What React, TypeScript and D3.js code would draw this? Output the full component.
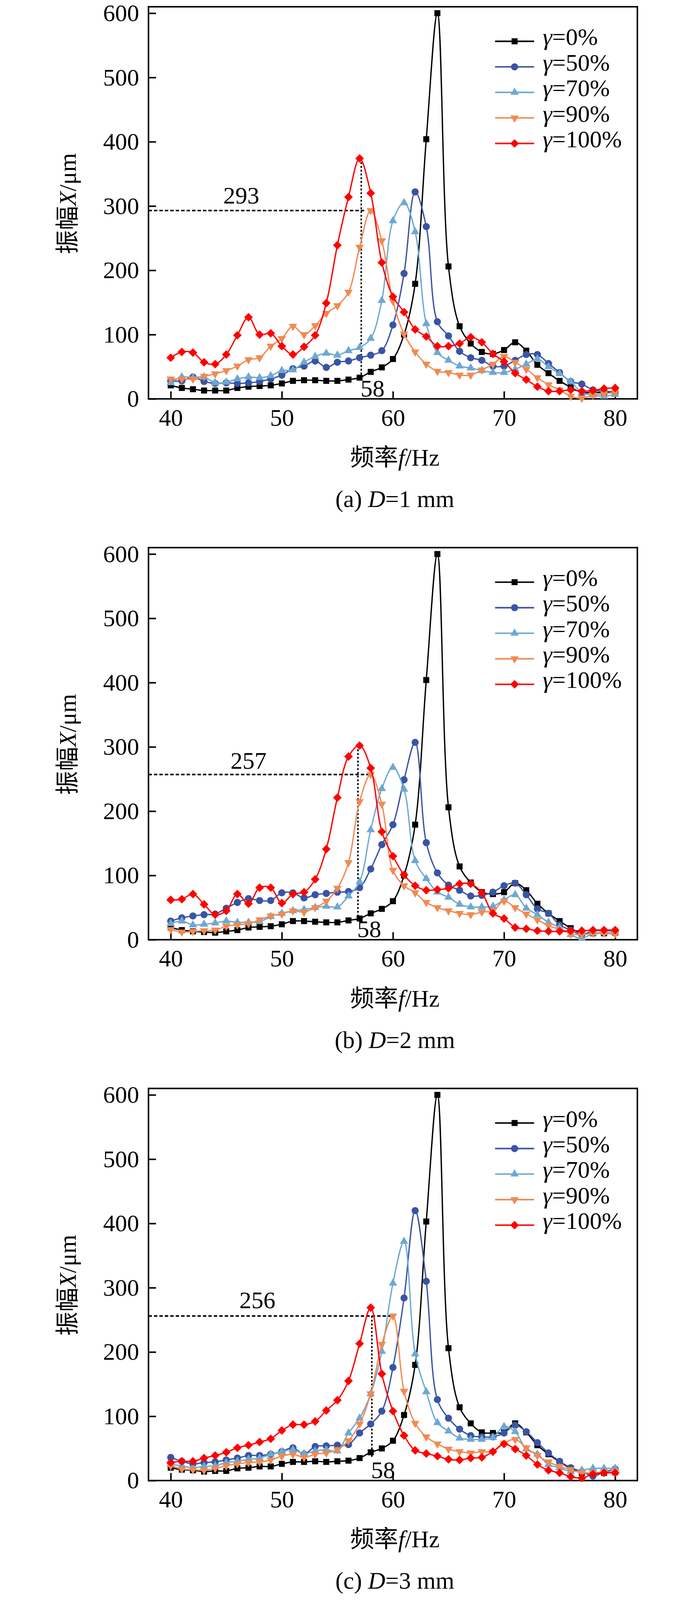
import { useEffect, useMemo, useRef } from "react";
import * as d3 from "d3";

const WIDTH = 1772;
const HEIGHT = 4260;
const PANEL_STEP = 1440;
const BOX = { left: 360, right: 1662, top: 18, bottom: 1062 };
const FONT = "'Liberation Serif', 'Times New Roman', 'Noto Sans CJK SC', serif";
const FONT_SIZE = 64;

// frequency sweep (Hz)
const freq = [
    40, 41, 42, 43, 44, 45, 46, 47, 48, 49, 50, 51, 52, 53, 54, 55, 56, 57, 58, 59, 60,
    61, 62, 63, 64, 65, 66, 67, 68, 69, 70, 71, 72, 73, 74, 75, 76, 77, 78, 79, 80,
];
const xTicks = [40, 50, 60, 70, 80];
const yTicks = [0, 100, 200, 300, 400, 500, 600];

const gammaLabels = ["0%", "50%", "70%", "90%", "100%"];
const seriesColors = ["#000000", "#3A54A4", "#6EA8D2", "#F08A52", "#FF0000"];
const seriesMarkers = ["square", "circle", "triangleUp", "triangleDown", "diamond"];

// (a) D = 1 mm
const d1g0 = [21, 17, 15, 13, 13, 13, 17, 19, 20, 21, 24, 28, 29, 29, 28, 28, 30, 33, 42, 49, 62, 100, 179, 404, 600, 206, 113, 86, 73, 70, 76, 88, 75, 53, 40, 28, 18, 10, 10, 10, 11];
const d1g50 = [28, 28, 34, 27, 24, 25, 24, 25, 27, 31, 37, 47, 51, 59, 49, 57, 59, 64, 68, 75, 115, 195, 322, 268, 120, 98, 74, 64, 60, 51, 51, 60, 69, 69, 55, 41, 27, 23, 14, 12, 11];
const d1g70 = [25, 34, 33, 34, 25, 26, 31, 34, 33, 36, 44, 45, 57, 66, 71, 68, 75, 80, 94, 153, 277, 305, 260, 117, 72, 60, 51, 48, 44, 41, 41, 46, 54, 62, 50, 39, 27, 10, 6, 4, 7];
const d1g90 = [31, 31, 31, 35, 39, 44, 51, 61, 64, 82, 94, 113, 100, 114, 133, 145, 166, 236, 293, 246, 152, 101, 73, 54, 43, 41, 37, 37, 45, 54, 66, 57, 46, 33, 22, 14, 4, 1, 6, 8, 10];
const d1g100 = [64, 73, 72, 57, 54, 69, 99, 127, 100, 102, 82, 69, 81, 99, 149, 239, 314, 374, 320, 212, 159, 135, 108, 97, 82, 82, 86, 96, 88, 70, 58, 40, 30, 19, 12, 12, 14, 12, 13, 16, 17];

// (b) D = 2 mm
const d2g0 = [19, 15, 13, 12, 11, 13, 15, 19, 20, 21, 24, 29, 29, 28, 27, 27, 30, 33, 41, 48, 60, 100, 179, 404, 600, 206, 114, 89, 74, 71, 74, 88, 77, 56, 41, 29, 18, 10, 10, 10, 11];
const d2g50 = [29, 34, 37, 39, 40, 49, 58, 64, 61, 61, 73, 73, 65, 70, 72, 74, 75, 81, 110, 148, 179, 249, 307, 151, 104, 85, 77, 68, 69, 74, 84, 88, 70, 48, 41, 23, 15, 8, 14, 14, 14];
const d2g70 = [25, 29, 23, 24, 26, 29, 27, 27, 28, 36, 41, 45, 47, 50, 52, 51, 68, 90, 171, 235, 268, 234, 123, 95, 74, 66, 55, 51, 51, 52, 62, 70, 49, 39, 27, 19, 8, 2, 10, 11, 11];
const d2g90 = [16, 12, 13, 14, 15, 21, 23, 25, 31, 37, 40, 45, 43, 50, 60, 80, 120, 215, 257, 211, 108, 84, 73, 58, 50, 45, 41, 39, 43, 45, 60, 50, 40, 31, 22, 16, 9, 8, 10, 10, 9];
const d2g100 = [62, 63, 71, 55, 39, 45, 71, 56, 81, 81, 57, 71, 74, 94, 141, 221, 285, 302, 267, 168, 130, 101, 84, 77, 78, 80, 87, 87, 73, 41, 33, 19, 17, 14, 13, 13, 14, 14, 15, 15, 15];

// (c) D = 3 mm
const d3g0 = [20, 17, 16, 14, 15, 15, 19, 20, 22, 22, 26, 29, 29, 30, 29, 30, 31, 35, 44, 50, 62, 102, 180, 403, 600, 206, 114, 89, 75, 74, 75, 89, 75, 55, 41, 29, 19, 12, 12, 12, 13];
const d3g50 = [36, 30, 26, 28, 29, 32, 35, 39, 39, 41, 45, 51, 41, 53, 54, 55, 56, 74, 88, 108, 176, 284, 420, 310, 126, 97, 80, 70, 68, 68, 74, 86, 76, 59, 43, 30, 20, 14, 7, 13, 18];
const d3g70 = [25, 23, 20, 22, 23, 28, 30, 33, 35, 41, 45, 48, 42, 46, 48, 46, 74, 97, 135, 201, 307, 372, 197, 138, 90, 77, 66, 64, 64, 67, 84, 76, 49, 41, 25, 20, 14, 16, 19, 19, 19];
const d3g90 = [23, 18, 17, 16, 19, 23, 26, 28, 29, 32, 38, 41, 36, 41, 43, 48, 62, 88, 135, 212, 256, 139, 89, 68, 57, 49, 45, 43, 45, 45, 58, 64, 51, 39, 29, 22, 17, 12, 12, 13, 14];
const d3g100 = [28, 30, 30, 35, 39, 44, 51, 55, 60, 65, 78, 87, 87, 92, 109, 125, 155, 213, 269, 166, 108, 70, 47, 42, 38, 33, 32, 35, 36, 45, 57, 49, 39, 25, 16, 12, 6, 4, 10, 12, 12];

// annotations: peak value line, frequency guide line
const captionLetters = ["a", "b", "c"];
const captionDiameters = [1, 2, 3];
const peakValues = [293, 257, 256];
const peakLabelX = [46.35, 47.0, 47.8];
const peakLabelY = [304, 266, 268];
const hLineEnd = [57.6, 57.9, 59.85];
const vLineX = [57.15, 56.85, 58.1];
const vLineTop = [374, 302, 256];
const vLineBottom = [32, 35, 35];
const freqLabel = ["58", "58", "58"];

const panels = [
    [d1g0, d1g50, d1g70, d1g90, d1g100],
    [d2g0, d2g50, d2g70, d2g90, d2g100],
    [d3g0, d3g50, d3g70, d3g90, d3g100],
];

const markerPath = (kind: string) => {
    switch (kind) {
        case "square":
            return d3.symbol().type(d3.symbolSquare).size(256)()!;
        case "circle":
            return d3.symbol().type(d3.symbolCircle).size(285)()!;
        case "triangleUp":
        case "triangleDown":
            return d3.symbol().type(d3.symbolTriangle).size(215)()!;
        default:
            return d3.symbol().type(d3.symbolSquare).size(265)()!;
    }
};
const markerRotate = (kind: string) =>
    kind === "triangleDown" ? 180 : kind === "diamond" ? 45 : 0;

const Marker = ({ kind, x, y, color }: { kind: string; x: number; y: number; color: string }) => (
    <path
        d={markerPath(kind)}
        transform={`translate(${x},${y}) rotate(${markerRotate(kind)})`}
        fill={color}
    />
);

const Axes = ({ xScale, yScale }: { xScale: d3.ScaleLinear<number, number>; yScale: d3.ScaleLinear<number, number> }) => {
    const ref = useRef<SVGGElement>(null);
    useEffect(() => {
        const g = d3.select(ref.current);
        g.selectAll("*").remove();
        g.append("g")
            .attr("transform", `translate(0,${BOX.bottom})`)
            .call(d3.axisBottom(xScale).tickValues(xTicks).tickSizeInner(-20).tickSizeOuter(0).tickPadding(26));
        g.append("g")
            .attr("transform", `translate(${BOX.left},0)`)
            .call(d3.axisLeft(yScale).tickValues(yTicks).tickSizeInner(-20).tickSizeOuter(0).tickPadding(25));
        g.selectAll(".domain").remove();
        g.selectAll(".tick line").attr("stroke", "#000").attr("stroke-width", 4);
        g.selectAll(".tick text")
            .attr("font-size", FONT_SIZE)
            .attr("font-family", FONT)
            .attr("fill", "#000");
    }, [xScale, yScale]);
    return <g ref={ref} />;
};

const Panel = ({ index }: { index: number }) => {
    const xScale = useMemo(
        () => d3.scaleLinear().domain([38, 82]).range([BOX.left, BOX.right]),
        []
    );
    const yScale = useMemo(
        () => d3.scaleLinear().domain([0, 610]).range([BOX.bottom, BOX.top]),
        []
    );
    const line = d3
        .line<number>()
        .x((_, i) => xScale(freq[i]))
        .y((d) => yScale(d))
        .curve(d3.curveCatmullRom.alpha(0.5));

    const series = panels[index];
    const cx = (BOX.left + BOX.right) / 2 + 5;

    return (
        <g transform={`translate(0,${index * PANEL_STEP})`}>
            <Axes xScale={xScale} yScale={yScale} />
            <rect
                x={BOX.left}
                y={BOX.top}
                width={BOX.right - BOX.left}
                height={BOX.bottom - BOX.top}
                fill="none"
                stroke="#000"
                strokeWidth={4}
            />

            {/* peak guide lines */}
            <line
                x1={BOX.left}
                x2={xScale(hLineEnd[index])}
                y1={yScale(peakValues[index])}
                y2={yScale(peakValues[index])}
                stroke="#000"
                strokeWidth={4}
                strokeDasharray="9 5.5"
            />
            <line
                x1={xScale(vLineX[index])}
                x2={xScale(vLineX[index])}
                y1={yScale(vLineTop[index])}
                y2={yScale(vLineBottom[index])}
                stroke="#000"
                strokeWidth={4}
                strokeDasharray="5 5"
            />

            {series.map((values, s) => (
                <g key={s}>
                    <path
                        d={line(values) ?? ""}
                        fill="none"
                        stroke={seriesColors[s]}
                        strokeWidth={3.5}
                    />
                    {values.map((v, i) => (
                        <Marker
                            key={i}
                            kind={seriesMarkers[s]}
                            x={xScale(freq[i])}
                            y={yScale(v)}
                            color={seriesColors[s]}
                        />
                    ))}
                </g>
            ))}

            <text
                x={xScale(peakLabelX[index])}
                y={yScale(peakLabelY[index])}
                textAnchor="middle"
                fontSize={FONT_SIZE}
            >
                {peakValues[index]}
            </text>
            <text x={xScale(vLineX[index]) - 2} y={yScale(4)} fontSize={FONT_SIZE}>
                {freqLabel[index]}
            </text>

            {/* legend */}
            {gammaLabels.map((label, s) => {
                const ly = 110 + s * 68;
                return (
                    <g key={label}>
                        <line x1={1283} x2={1387} y1={ly} y2={ly} stroke={seriesColors[s]} strokeWidth={4} />
                        <Marker kind={seriesMarkers[s]} x={1335} y={ly} color={seriesColors[s]} />
                        <text x={1410} y={ly + 10} fontSize={FONT_SIZE}>
                            <tspan fontStyle="italic">γ</tspan>={label}
                        </text>
                    </g>
                );
            })}

            {/* axis titles */}
            <text transform={`translate(166,${(BOX.top + BOX.bottom) / 2 + 2}) rotate(-90)`} textAnchor="middle" fontSize={FONT_SIZE}>
                振幅<tspan fontStyle="italic">X</tspan>/μm
            </text>
            <text x={cx} y={1240} textAnchor="middle" fontSize={FONT_SIZE}>
                频率<tspan fontStyle="italic">f</tspan>/Hz
            </text>
            <text x={cx} y={1350} textAnchor="middle" fontSize={FONT_SIZE}>
                ({captionLetters[index]}) <tspan fontStyle="italic">D</tspan>={captionDiameters[index]} mm
            </text>
        </g>
    );
};

export default function App() {
    return (
        <svg
            viewBox={`0 0 ${WIDTH} ${HEIGHT}`}
            preserveAspectRatio="xMidYMin meet"
            style={{ position: "fixed", left: 0, top: 0, width: "100vw", height: "100vh", background: "#fff" }}
            fontFamily={FONT}
        >
            <rect width={WIDTH} height={HEIGHT} fill="#fff" />
            {[0, 1, 2].map((i) => (
                <Panel key={i} index={i} />
            ))}
        </svg>
    );
}
